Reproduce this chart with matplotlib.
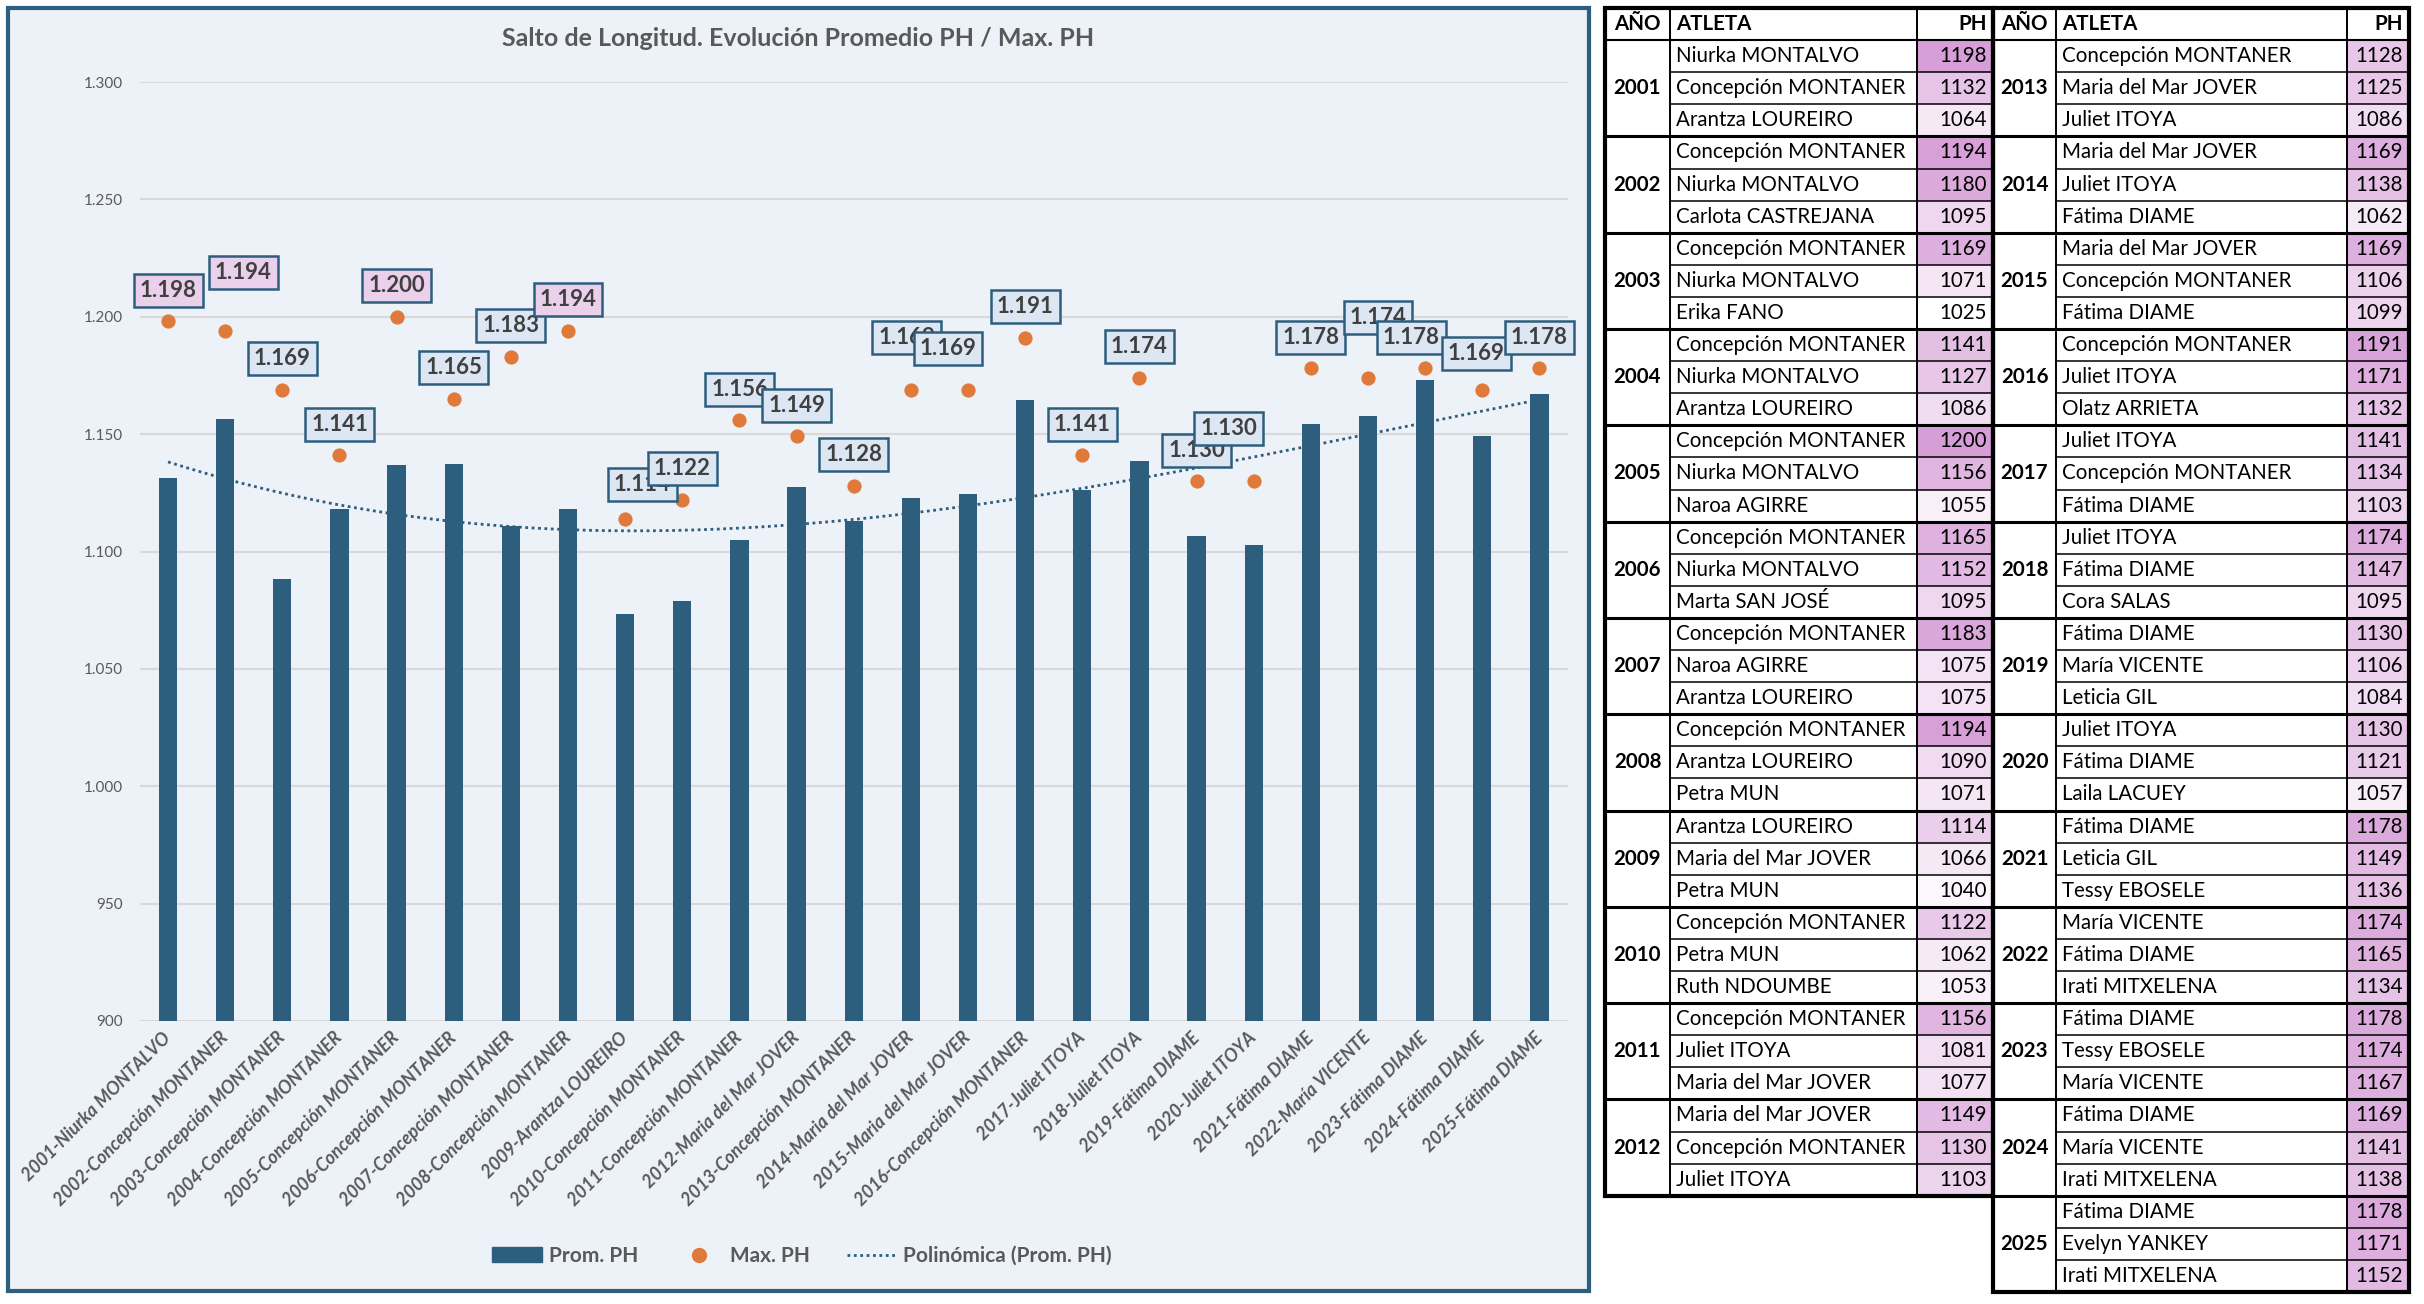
import numpy as np
import matplotlib.pyplot as plt
from matplotlib.patches import Rectangle
from matplotlib.lines import Line2D
from matplotlib.colors import LinearSegmentedColormap, Normalize

plt.rcParams["font.family"] = ["Lato", "DejaVu Sans"]

W, H = 2424, 1304

# ---- chart data ----
categories = [
    "2001-Niurka MONTALVO", "2002-Concepción MONTANER", "2003-Concepción MONTANER",
    "2004-Concepción MONTANER", "2005-Concepción MONTANER", "2006-Concepción MONTANER",
    "2007-Concepción MONTANER", "2008-Concepción MONTANER", "2009-Arantza LOUREIRO",
    "2010-Concepción MONTANER", "2011-Concepción MONTANER", "2012-Maria del Mar JOVER",
    "2013-Concepción MONTANER", "2014-Maria del Mar JOVER", "2015-Maria del Mar JOVER",
    "2016-Concepción MONTANER", "2017-Juliet ITOYA", "2018-Juliet ITOYA",
    "2019-Fátima DIAME", "2020-Juliet ITOYA", "2021-Fátima DIAME",
    "2022-María VICENTE", "2023-Fátima DIAME", "2024-Fátima DIAME", "2025-Fátima DIAME",
]
prom_ph = [1131.3, 1156.3, 1088.3, 1118.0, 1137.0, 1137.3, 1111.0, 1118.3, 1073.3, 1079.0,
           1104.7, 1127.3, 1113.0, 1123.0, 1124.7, 1164.7, 1126.0, 1138.7, 1106.7, 1102.7,
           1154.3, 1157.7, 1173.0, 1149.3, 1167.0]
max_ph = [1198, 1194, 1169, 1141, 1200, 1165, 1183, 1194, 1114, 1122, 1156, 1149, 1128,
          1169, 1169, 1191, 1141, 1174, 1130, 1130, 1178, 1174, 1178, 1169, 1178]
y_ticks = [900, 950, 1000, 1050, 1100, 1150, 1200, 1250, 1300]

# ---- table data ----
table_years = [2001, 2002, 2003, 2004, 2005, 2006, 2007, 2008, 2009, 2010, 2011, 2012,
               2013, 2014, 2015, 2016, 2017, 2018, 2019, 2020, 2021, 2022, 2023, 2024, 2025]
table_athletes = [
    ["Niurka MONTALVO", "Concepción MONTANER", "Arantza LOUREIRO"],
    ["Concepción MONTANER", "Niurka MONTALVO", "Carlota CASTREJANA"],
    ["Concepción MONTANER", "Niurka MONTALVO", "Erika FANO"],
    ["Concepción MONTANER", "Niurka MONTALVO", "Arantza LOUREIRO"],
    ["Concepción MONTANER", "Niurka MONTALVO", "Naroa AGIRRE"],
    ["Concepción MONTANER", "Niurka MONTALVO", "Marta SAN JOSÉ"],
    ["Concepción MONTANER", "Naroa AGIRRE", "Arantza LOUREIRO"],
    ["Concepción MONTANER", "Arantza LOUREIRO", "Petra MUN"],
    ["Arantza LOUREIRO", "Maria del Mar JOVER", "Petra MUN"],
    ["Concepción MONTANER", "Petra MUN", "Ruth NDOUMBE"],
    ["Concepción MONTANER", "Juliet ITOYA", "Maria del Mar JOVER"],
    ["Maria del Mar JOVER", "Concepción MONTANER", "Juliet ITOYA"],
    ["Concepción MONTANER", "Maria del Mar JOVER", "Juliet ITOYA"],
    ["Maria del Mar JOVER", "Juliet ITOYA", "Fátima DIAME"],
    ["Maria del Mar JOVER", "Concepción MONTANER", "Fátima DIAME"],
    ["Concepción MONTANER", "Juliet ITOYA", "Olatz ARRIETA"],
    ["Juliet ITOYA", "Concepción MONTANER", "Fátima DIAME"],
    ["Juliet ITOYA", "Fátima DIAME", "Cora SALAS"],
    ["Fátima DIAME", "María VICENTE", "Leticia GIL"],
    ["Juliet ITOYA", "Fátima DIAME", "Laila LACUEY"],
    ["Fátima DIAME", "Leticia GIL", "Tessy EBOSELE"],
    ["María VICENTE", "Fátima DIAME", "Irati MITXELENA"],
    ["Fátima DIAME", "Tessy EBOSELE", "María VICENTE"],
    ["Fátima DIAME", "María VICENTE", "Irati MITXELENA"],
    ["Fátima DIAME", "Evelyn YANKEY", "Irati MITXELENA"],
]
table_ph = [
    [1198, 1132, 1064], [1194, 1180, 1095], [1169, 1071, 1025], [1141, 1127, 1086],
    [1200, 1156, 1055], [1165, 1152, 1095], [1183, 1075, 1075], [1194, 1090, 1071],
    [1114, 1066, 1040], [1122, 1062, 1053], [1156, 1081, 1077], [1149, 1130, 1103],
    [1128, 1125, 1086], [1169, 1138, 1062], [1169, 1106, 1099], [1191, 1171, 1132],
    [1141, 1134, 1103], [1174, 1147, 1095], [1130, 1106, 1084], [1130, 1121, 1057],
    [1178, 1149, 1136], [1174, 1165, 1134], [1178, 1174, 1167], [1169, 1141, 1138],
    [1178, 1171, 1152],
]

# label nudges (pixels, +y up) where the labels were moved by hand
label_shift = {1: (18, 58), 8: (17, 34), 13: (-4, 52), 14: (-20, 41), 19: (-25, 53),
               21: (10, 60), 22: (-14, 31), 23: (-6, 36)}

BLUE = "#2d5e7e"
ORANGE = "#e07a3a"
GREY = "#595959"


def fmt(v):
    return f"{v:,.0f}".replace(",", ".")


fig = plt.figure(figsize=(W / 100, H / 100), dpi=100)

# background layer in pixel coordinates (chart frame + table)
bg = fig.add_axes([0, 0, 1, 1], zorder=0)
bg.set_xlim(0, W)
bg.set_ylim(H, 0)
bg.axis("off")
bg.add_patch(Rectangle((8, 8), 1581, 1283, facecolor="#edf2f8", edgecolor=BLUE, lw=3))

fig.text(798 / W, 1 - 39 / H, "Salto de Longitud. Evolución Promedio PH / Max. PH",
         ha="center", va="center", fontsize=18, fontweight="bold", color=GREY)

# ---- chart ----
ax = fig.add_axes([139.5 / W, 1 - 1021 / H, (1568 - 139.5) / W, (1021 - 82) / H], zorder=1)
ax.patch.set_alpha(0)
x = np.arange(len(categories))

ax.bar(x, prom_ph, width=0.32, color=BLUE, zorder=2)
coef = np.polyfit(x, prom_ph, 3)
xt = np.linspace(0, len(categories) - 1, 300)
ax.plot(xt, np.polyval(coef, xt), color=BLUE, lw=2, linestyle=(0, (1, 1.3)), zorder=3)
ax.scatter(x, max_ph, s=105, color=ORANGE, zorder=4, linewidths=0)

for i, v in enumerate(max_ph):
    dx, dy = label_shift.get(i, (0, 31))
    face = "#ead0ea" if v >= 1194 else "#dde7f3"
    ax.annotate(fmt(v), xy=(i, v), xytext=(dx, dy), textcoords="offset pixels",
                ha="center", va="center", fontsize=16, fontweight="bold", color="#404040",
                bbox=dict(boxstyle="square,pad=0.27", fc=face, ec=BLUE, lw=1.8),
                zorder=10 + i, annotation_clip=False)

ax.set_xlim(-0.5, len(categories) - 0.5)
ax.set_ylim(900, 1300)
ax.set_yticks(y_ticks)
ax.set_yticklabels([fmt(t) for t in y_ticks])
ax.set_xticks(x)
ax.set_xticklabels(categories, rotation=45, ha="right", va="center", rotation_mode="anchor",
                   fontsize=13, fontweight="bold", fontstyle="italic", color=GREY)
ax.tick_params(axis="x", length=0, pad=10)
ax.tick_params(axis="y", length=0, pad=12, labelsize=11, labelcolor=GREY)
ax.yaxis.grid(True, color="#d9d9d9", lw=1.5)
ax.set_axisbelow(True)
for s in ax.spines.values():
    s.set_visible(False)

handles = [
    Rectangle((0, 0), 1, 1, color=BLUE),
    Line2D([], [], marker="o", color=ORANGE, linestyle="none", markersize=10),
    Line2D([], [], color=BLUE, lw=2, linestyle=(0, (1, 1.3))),
]
fig.legend(handles, ["Prom. PH", "Max. PH", "Polinómica (Prom. PH)"], loc="center",
           bbox_to_anchor=(802 / W, 1 - 1256 / H), ncol=3, frameon=False,
           prop={"family": ["Lato", "DejaVu Sans"], "weight": "bold", "size": 15},
           labelcolor=GREY, handlelength=2.4, handletextpad=0.3, columnspacing=1.75)

# ---- tables ----
cmap = LinearSegmentedColormap.from_list("ph", ["#ffffff", "#d69ed7"])
all_ph = [p for block in table_ph for p in block]
norm = Normalize(min(all_ph), max(all_ph))
top, rh = 8, 32.1
fs = 14.8


def draw_table(cols, first, last):
    x0, x1, x2, x3 = cols
    n_blocks = last - first
    bottom = top + rh * (1 + 3 * n_blocks)
    yc = top + rh / 2
    bg.text((x0 + x1) / 2, yc, "AÑO", ha="center", va="center", fontsize=fs, fontweight="bold")
    bg.text(x1 + 6, yc, "ATLETA", ha="left", va="center", fontsize=fs, fontweight="bold")
    bg.text(x3 - 6, yc, "PH", ha="right", va="center", fontsize=fs, fontweight="bold")
    bg.plot([x0, x3], [top + rh, top + rh], color="black", lw=1.5)
    for b in range(n_blocks):
        k = first + b
        yb = top + rh * (1 + 3 * b)
        for r in range(3):
            yr = yb + r * rh
            bg.add_patch(Rectangle((x2, yr), x3 - x2, rh, facecolor=cmap(norm(table_ph[k][r])),
                                   edgecolor="none", zorder=1))
            bg.text(x1 + 6, yr + rh / 2, table_athletes[k][r], ha="left", va="center", fontsize=fs, zorder=3)
            bg.text(x3 - 6, yr + rh / 2, str(table_ph[k][r]), ha="right", va="center", fontsize=fs, zorder=3)
            if r > 0:
                bg.plot([x1, x3], [yr, yr], color="black", lw=1.1, zorder=2)
        bg.text((x0 + x1) / 2, yb + 1.5 * rh, str(table_years[k]), ha="center", va="center",
                fontsize=fs, fontweight="bold", zorder=3)
        if b > 0:
            bg.plot([x0, x3], [yb, yb], color="black", lw=2.2, zorder=2)
    for xv in (x1, x2):
        bg.plot([xv, xv], [top, bottom], color="black", lw=1.4, zorder=2)
    bg.add_patch(Rectangle((x0, top), x3 - x0, bottom - top, fill=False, edgecolor="black",
                           lw=3, zorder=4))


draw_table((1605, 1670, 1917, 1993), 0, 12)
draw_table((1993, 2056, 2347, 2409), 12, 25)

fig.savefig("out.png", dpi=100)
